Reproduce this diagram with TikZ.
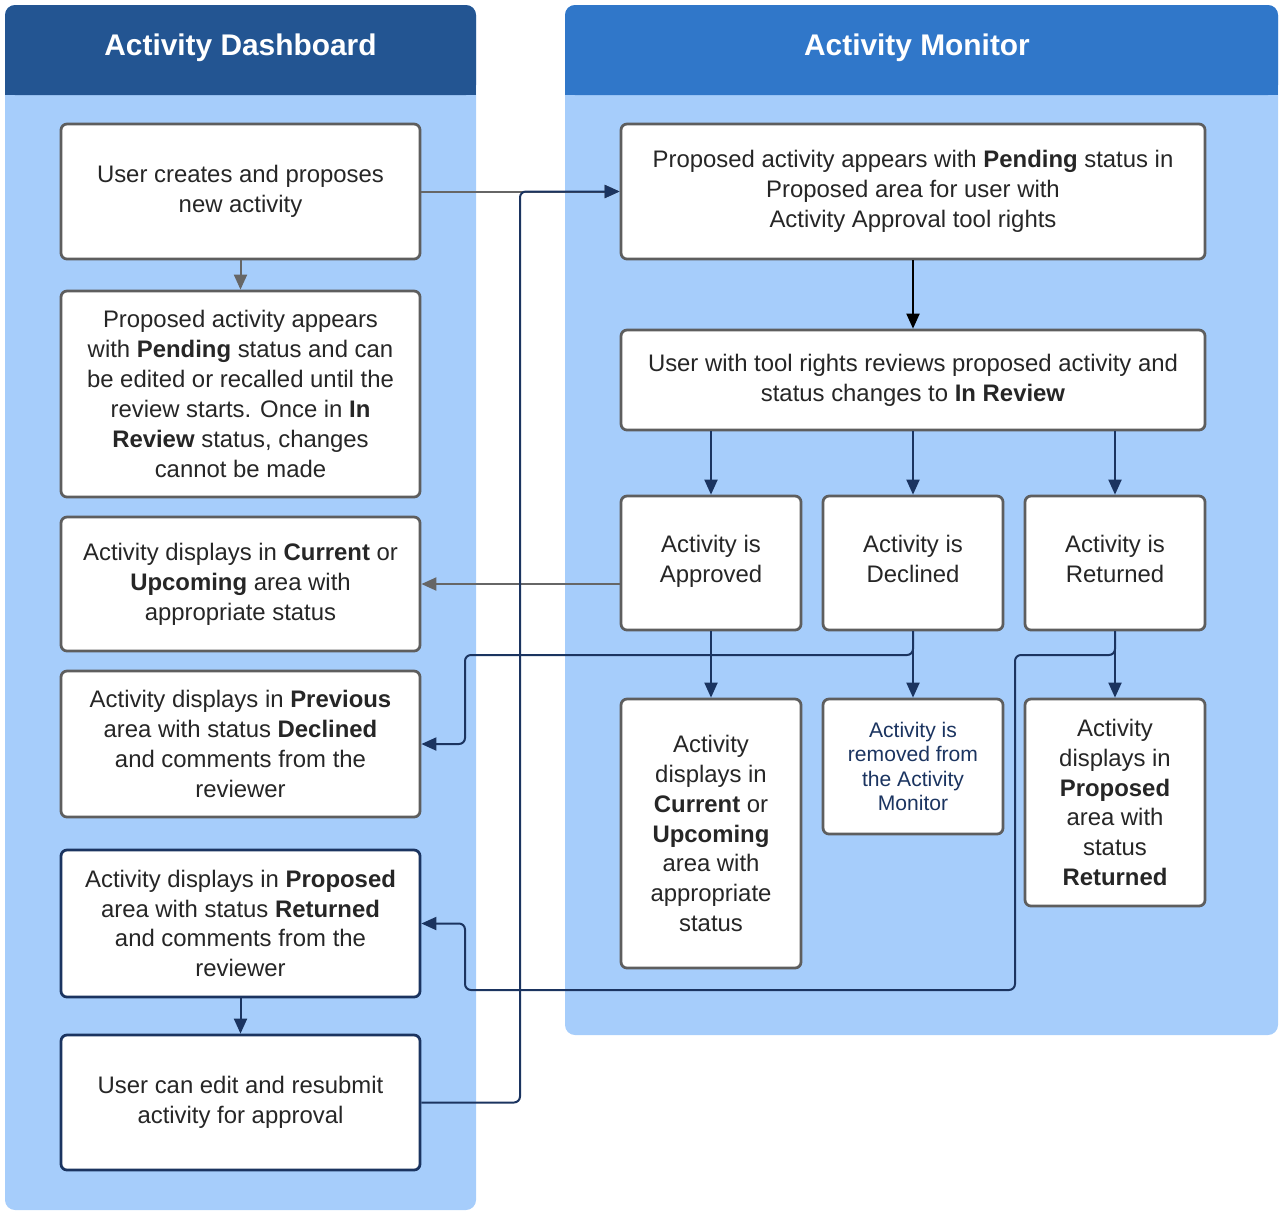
\documentclass[tikz,border=0pt]{standalone}
\usepackage{fontspec}
\setmainfont{Liberation Sans}
\usepackage{xcolor}
\usetikzlibrary{arrows.meta}

\definecolor{headdark}{HTML}{235592}
\definecolor{headlight}{HTML}{3077C9}
\definecolor{lanefill}{HTML}{A6CDFB}
\definecolor{boxgray}{HTML}{5E5E5E}
\definecolor{linkgray}{HTML}{666666}
\definecolor{navy}{HTML}{1B3460}
\definecolor{textdark}{HTML}{262626}

\tikzset{
	flowbox/.style={draw=boxgray, line width=0.55mm, fill=white, rounded corners=1.2mm,
		align=center, inner sep=0pt, text=textdark, font=\fontsize{13.6}{17}\selectfont},
	navybox/.style={flowbox, draw=navy},
	lanetitle/.style={text=white, font=\fontsize{17}{20}\selectfont\bfseries},
	grayarrow/.style={draw=linkgray, line width=0.4mm, -{Triangle[length=3mm,width=2.6mm]}},
	navyarrow/.style={draw=navy, line width=0.4mm, rounded corners=1.2mm, -{Triangle[length=3mm,width=2.6mm]}},
	blackarrow/.style={draw=black, line width=0.4mm, -{Triangle[length=3mm,width=2.6mm]}}
}

\begin{document}
\begin{tikzpicture}[x=0.2mm,y=-0.2mm]
			\useasboundingbox (0,0) rectangle (1279,1212);
			
			% Activity Dashboard lane
			\fill[lanefill, rounded corners=2mm] (5,5) rectangle (476,1210);
			\fill[headdark, rounded corners=2mm] (5,5) rectangle (476,95);
			\fill[headdark] (5,50) rectangle (476,95);
			\node[lanetitle] (dashtitle) at (240.5,48) {Activity Dashboard};
			
			% Activity Monitor lane
			\fill[lanefill, rounded corners=2mm] (565,5) rectangle (1278,1035);
			\fill[headlight, rounded corners=2mm] (565,5) rectangle (1278,95);
			\fill[headlight] (565,50) rectangle (1278,95);
			\node[lanetitle] (montitle) at (917,48) {Activity Monitor};
			
			% Dashboard steps
			\node[flowbox, minimum width=71.8mm, minimum height=27mm] (propose) at (240.5,191.5)
				{User creates and proposes\\new activity};
			\node[flowbox, minimum width=71.8mm, minimum height=41.2mm] (pending) at (240.5,394)
				{Proposed activity appears\\with \textbf{Pending} status and can\\be edited or recalled until the\\review starts. Once in \textbf{In}\\\textbf{Review} status, changes\\cannot be made};
			\node[flowbox, minimum width=71.8mm, minimum height=26.8mm] (current) at (240.5,584)
				{Activity displays in \textbf{Current} or\\\textbf{Upcoming} area with\\appropriate status};
			\node[flowbox, minimum width=71.8mm, minimum height=29.2mm] (previous) at (240.5,744)
				{Activity displays in \textbf{Previous}\\area with status \textbf{Declined}\\and comments from the\\reviewer};
			\node[navybox, minimum width=71.8mm, minimum height=29.4mm] (proposed) at (240.5,923.5)
				{Activity displays in \textbf{Proposed}\\area with status \textbf{Returned}\\and comments from the\\reviewer};
			\node[navybox, minimum width=71.8mm, minimum height=27mm] (resubmit) at (240.5,1102.5)
				{User can edit and resubmit\\activity for approval};
			
			% Monitor steps
			\node[flowbox, minimum width=116.8mm, minimum height=27mm] (appears) at (913,191.5)
				{Proposed activity appears with \textbf{Pending} status in\\Proposed area for user with\\Activity Approval tool rights};
			\node[flowbox, minimum width=116.8mm, minimum height=20mm] (review) at (913,380)
				{User with tool rights reviews proposed activity and\\status changes to \textbf{In Review}};
			\node[flowbox, minimum width=36mm, minimum height=26.8mm] (approved) at (711,563)
				{Activity is\\Approved\strut};
			\node[flowbox, minimum width=36mm, minimum height=26.8mm] (declined) at (913,563)
				{Activity is\\Declined\strut};
			\node[flowbox, minimum width=36mm, minimum height=26.8mm] (returned) at (1115,563)
				{Activity is\\Returned\strut};
			\node[flowbox, minimum width=36mm, minimum height=53.8mm] (appstatus) at (711,833.5)
				{Activity\\displays in\\\textbf{Current} or\\\textbf{Upcoming}\\area with\\appropriate\\status};
			\node[flowbox, minimum width=36mm, minimum height=27mm, text=navy,
				font=\fontsize{12}{14}\selectfont] (removed) at (913,766.5)
				{Activity is\\removed from\\the Activity\\Monitor};
			\node[flowbox, minimum width=36mm, minimum height=41.4mm] (retstatus) at (1115,802.5)
				{Activity\\displays in\\\textbf{Proposed}\\area with\\status\\\textbf{Returned}};
			
			% Bend points
			\coordinate (declbend) at (465,655);
			\coordinate (retbend) at (1015,655);
			\coordinate (retlow) at (465,990);
			\coordinate (resub) at (520,191.5);
			
			% Connecting lines
			\draw[grayarrow] (propose) -- (pending);
			\draw[grayarrow] (propose.east) -- (appears.west);
			\draw[blackarrow] (appears) -- (review);
			\foreach \n in {approved,declined,returned}
				\draw[navyarrow] (review.south -| \n.north) -- (\n.north);
			\draw[grayarrow] (approved.west |- current.east) -- (current.east);
			\draw[navyarrow] (approved) -- (appstatus);
			\draw[navyarrow] (declined) -- (removed);
			\draw[navyarrow] (returned) -- (retstatus);
			\draw[navyarrow] (declined.south) |- (declbend) |- (previous.east);
			\draw[navyarrow] (returned.south) |- (retbend) |- (retlow) |- (proposed.east);
			\draw[navyarrow] (proposed) -- (resubmit);
			\draw[navyarrow] (resubmit.east) -| (resub) -- (appears.west);
			
		\end{tikzpicture}
\end{document}
